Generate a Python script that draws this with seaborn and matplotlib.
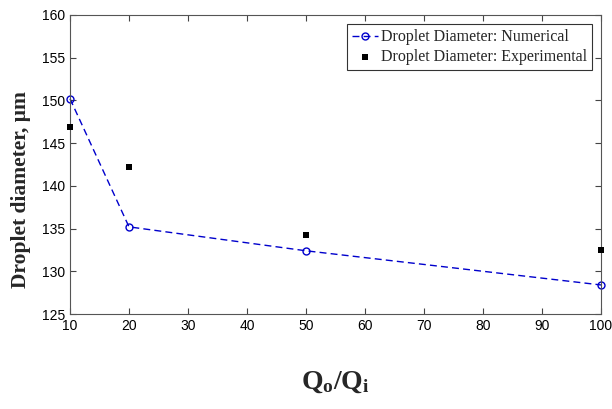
import pandas as pd
import matplotlib
matplotlib.use('Agg')
import matplotlib.pyplot as plt
import seaborn as sns

# data
ratio = [10, 20, 50, 100]
numerical = [150.2, 135.2, 132.4, 128.4]
experimental = [146.9, 142.2, 134.2, 132.5]

df = pd.DataFrame({'ratio': ratio, 'numerical': numerical, 'experimental': experimental})

sns.set_style('ticks')
plt.rcParams['font.family'] = ['Liberation Sans', 'DejaVu Sans']
plt.rcParams['mathtext.fontset'] = 'custom'
plt.rcParams['mathtext.bf'] = 'Liberation Serif:bold'
plt.rcParams['mathtext.rm'] = 'Liberation Serif:bold'

fig = plt.figure(figsize=(6.12, 4.09), dpi=100)
ax = fig.add_axes([70 / 612, 1 - 314 / 409, 531 / 612, 299 / 409])

sns.lineplot(x='ratio', y='numerical', data=df, ax=ax, color='#0000cc',
             linewidth=1.0, marker='o', markersize=5, markerfacecolor='none',
             markeredgecolor='#0000cc', markeredgewidth=1.0,
             label='Droplet Diameter: Numerical')
ax.lines[0].set_dashes((5, 3))
sns.scatterplot(x='ratio', y='experimental', data=df, ax=ax, color='black', marker='s',
                s=25, edgecolor='black', linewidth=0, label='Droplet Diameter: Experimental',
                clip_on=False, zorder=3)
for l in ax.lines:
    l.set_clip_on(False)

ax.set_xlim(10, 100)
ax.set_ylim(125, 160)
ax.set_xticks(range(10, 101, 10))
ax.set_yticks(range(125, 161, 5))
ax.tick_params(direction='in', top=True, right=True, labelsize=10, length=4, width=0.8,
               colors='#444444', labelcolor='black')
for s in ax.spines.values():
    s.set_color('#555555')
    s.set_linewidth(0.8)

ax.set_xlabel(r'$\mathbf{Q_o/Q_i}$', fontsize=20, labelpad=26)
ax.set_ylabel('Droplet diameter, μm', fontsize=15.5, fontweight='bold',
              family=['Liberation Serif', 'DejaVu Serif'])
ax.yaxis.set_label_coords(-0.073, 0.415)

leg = ax.legend(loc='upper right', prop={'family': 'Liberation Serif', 'size': 11.5},
                frameon=True, fancybox=False, edgecolor='black', borderpad=0.3,
                handlelength=1.6, handletextpad=0.2, labelspacing=0.25,
                bbox_to_anchor=(0.998, 0.995))
leg.get_frame().set_linewidth(0.8)

fig.savefig('out.png', dpi=100)
